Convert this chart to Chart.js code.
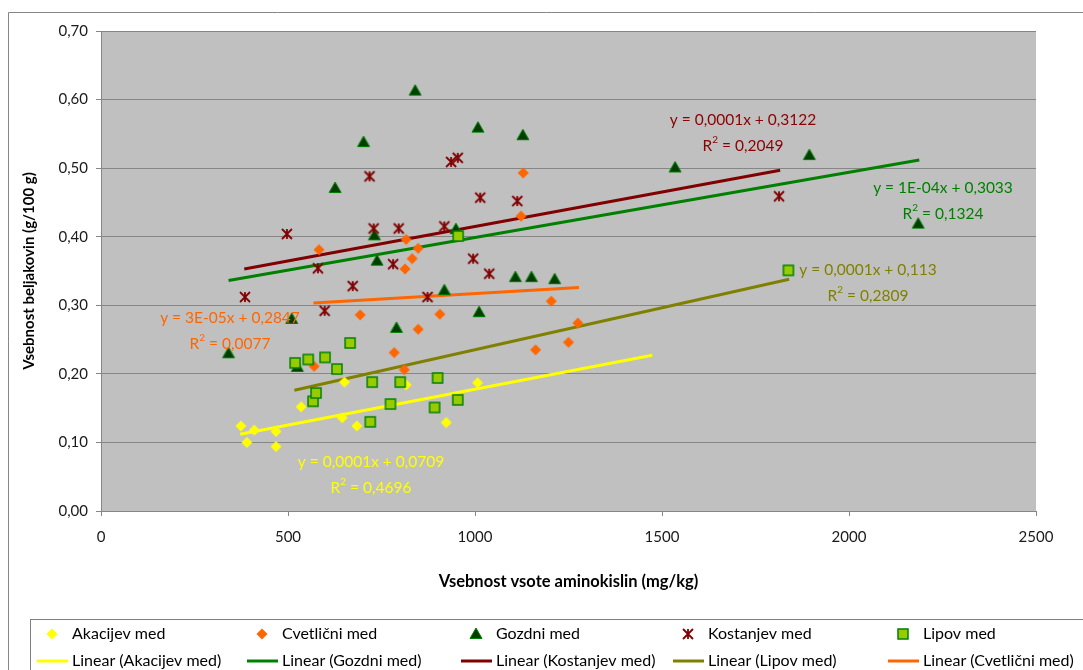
<!DOCTYPE html>
<html>
<head>
<meta charset="utf-8">
<script src="https://cdn.jsdelivr.net/npm/chart.js@4"></script>
<style>
  html, body { margin: 0; padding: 0; background: #fff; }
</style>
</head>
<body>
<canvas id="myChart" width="1083" height="670"></canvas>
<script>
// series values
const akacijevX = [374, 390, 410, 468, 468, 535, 645, 651, 684, 816, 923, 1007];
const akacijevY = [0.124, 0.100, 0.118, 0.116, 0.094, 0.152, 0.136, 0.188, 0.124, 0.184, 0.129, 0.187];

const cvetlicniX = [570, 583, 693, 784, 811, 813, 816, 832, 848, 848, 906, 1123, 1129, 1162, 1204, 1250, 1275];
const cvetlicniY = [0.211, 0.381, 0.286, 0.231, 0.206, 0.353, 0.396, 0.368, 0.383, 0.265, 0.287, 0.430, 0.493, 0.235, 0.306, 0.246, 0.274];

const gozdniX = [341, 510, 525, 626, 702, 731, 738, 790, 840, 918, 949, 1008, 1011, 1108, 1128, 1151, 1213, 1535, 1894, 2185];
const gozdniY = [0.230, 0.280, 0.210, 0.471, 0.538, 0.402, 0.365, 0.267, 0.613, 0.322, 0.411, 0.559, 0.290, 0.341, 0.548, 0.341, 0.338, 0.501, 0.519, 0.419];

const kostanjevX = [385, 497, 580, 598, 673, 718, 729, 781, 796, 873, 918, 936, 954, 995, 1014, 1038, 1113, 1813];
const kostanjevY = [0.312, 0.404, 0.354, 0.292, 0.328, 0.488, 0.412, 0.360, 0.412, 0.312, 0.415, 0.509, 0.515, 0.368, 0.457, 0.346, 0.452, 0.459];

const lipovX = [519, 554, 567, 575, 599, 631, 666, 720, 725, 774, 800, 892, 900, 954, 955, 1838];
const lipovY = [0.216, 0.221, 0.160, 0.172, 0.224, 0.207, 0.245, 0.130, 0.188, 0.156, 0.188, 0.151, 0.194, 0.162, 0.401, 0.351];

// trendline end points (start, end)
const akacijevTrendX = [372, 1474];
const akacijevTrendY = [0.112, 0.227];
const cvetlicniTrendX = [568, 1278];
const cvetlicniTrendY = [0.3035, 0.326];
const gozdniTrendX = [341, 2188];
const gozdniTrendY = [0.336, 0.512];
const kostanjevTrendX = [383, 1816];
const kostanjevTrendY = [0.353, 0.497];
const lipovTrendX = [517, 1840];
const lipovTrendY = [0.176, 0.338];

// tick labels
const yTickLabels = ["0,00", "0,10", "0,20", "0,30", "0,40", "0,50", "0,60", "0,70"];
const xTickLabels = ["0", "500", "1000", "1500", "2000", "2500"];

// trendline equation texts
const eqAkacijev = ["y = 0,0001x + 0,0709", "0,4696"];
const eqCvetlicni = ["y = 3E-05x + 0,2847", "0,0077"];
const eqGozdni = ["y = 1E-04x + 0,3033", "0,1324"];
const eqKostanjev = ["y = 0,0001x + 0,3122", "0,2049"];
const eqLipov = ["y = 0,0001x + 0,113", "0,2809"];

const FONT = "Lato, 'Open Sans', sans-serif";

const toPoints = (xs, ys) => xs.map((x, i) => ({ x: x, y: ys[i] }));

// marker drawing, used for points and legend
const drawMarker = (g, kind, cx, cy) => {
  g.save();
  if (kind === "akacijev" || kind === "cvetlicni") {
    g.fillStyle = kind === "akacijev" ? "#FFFF00" : "#FF6600";
    g.beginPath();
    g.moveTo(cx, cy - 5.5);
    g.lineTo(cx + 5.5, cy);
    g.lineTo(cx, cy + 5.5);
    g.lineTo(cx - 5.5, cy);
    g.closePath();
    g.fill();
  } else if (kind === "gozdni") {
    g.fillStyle = "#003F00";
    g.strokeStyle = "#008000";
    g.lineWidth = 1;
    g.beginPath();
    g.moveTo(cx, cy - 6);
    g.lineTo(cx + 6, cy + 4.5);
    g.lineTo(cx - 6, cy + 4.5);
    g.closePath();
    g.fill();
    g.stroke();
  } else if (kind === "kostanjev") {
    g.strokeStyle = "#800000";
    g.lineWidth = 1.8;
    g.beginPath();
    g.moveTo(cx - 5, cy - 5);
    g.lineTo(cx + 5, cy + 5);
    g.moveTo(cx + 5, cy - 5);
    g.lineTo(cx - 5, cy + 5);
    g.moveTo(cx, cy - 5);
    g.lineTo(cx, cy + 5);
    g.stroke();
  } else if (kind === "lipov") {
    g.fillStyle = "#99CC00";
    g.strokeStyle = "#008000";
    g.lineWidth = 1.5;
    g.fillRect(cx - 5, cy - 5, 10, 10);
    g.strokeRect(cx - 5, cy - 5, 10, 10);
  }
  g.restore();
};

const makeMarker = (kind) => {
  const c = document.createElement("canvas");
  c.width = 16;
  c.height = 16;
  drawMarker(c.getContext("2d"), kind, 8, 8);
  return c;
};

const scatterSet = (label, xs, ys, kind, order) => ({
  label: label,
  data: toPoints(xs, ys),
  pointStyle: makeMarker(kind),
  pointRadius: 6,
  showLine: false,
  order: order,
});

const trendSet = (label, xs, ys, color) => ({
  label: label,
  data: toPoints(xs, ys),
  showLine: true,
  pointRadius: 0,
  borderColor: color,
  borderWidth: 3,
  order: 10,
});

// background of the plot area and white page
const backgroundPlugin = {
  id: "background",
  beforeDraw(chart) {
    const { ctx, chartArea: a } = chart;
    ctx.save();
    ctx.fillStyle = "#ffffff";
    ctx.fillRect(0, 0, chart.width, chart.height);
    ctx.fillStyle = "#C0C0C0";
    ctx.fillRect(a.left, a.top, a.right - a.left, a.bottom - a.top);
    ctx.restore();
  },
};

// equation + R² labels
const drawEquation = (ctx, eq, cx, cy, color) => {
  const big = "15.5px " + FONT;
  const small = "10px " + FONT;
  ctx.save();
  ctx.fillStyle = color;
  ctx.textBaseline = "middle";
  ctx.font = big;
  ctx.textAlign = "center";
  ctx.fillText(eq[0], cx, cy);
  const rest = " = " + eq[1];
  const wR = ctx.measureText("R").width;
  const wRest = ctx.measureText(rest).width;
  ctx.font = small;
  const wSup = ctx.measureText("2").width;
  const total = wR + wSup + wRest;
  let x = cx - total / 2;
  const y2 = cy + 26;
  ctx.textAlign = "left";
  ctx.font = big;
  ctx.fillText("R", x, y2);
  x += wR;
  ctx.font = small;
  ctx.fillText("2", x, y2 - 6);
  x += wSup;
  ctx.font = big;
  ctx.fillText(rest, x, y2);
  ctx.restore();
};

const labelsPlugin = {
  id: "eqLabels",
  afterDatasetsDraw(chart) {
    const ctx = chart.ctx;
    drawEquation(ctx, eqKostanjev, 743, 120, "#8B0000");
    drawEquation(ctx, eqGozdni, 943, 188, "#008000");
    drawEquation(ctx, eqLipov, 868, 270, "#808000");
    drawEquation(ctx, eqCvetlicni, 230, 318, "#FF6600");
    drawEquation(ctx, eqAkacijev, 371, 462, "#FFFF00");
  },
};

// legend box below the chart, two rows like the original
const legendPlugin = {
  id: "legendBox",
  afterDraw(chart) {
    const ctx = chart.ctx;
    ctx.save();
    // outer chart frame
    ctx.strokeStyle = "#868686";
    ctx.lineWidth = 1;
    ctx.beginPath();
    ctx.moveTo(8.5, 680);
    ctx.lineTo(8.5, 12.5);
    ctx.lineTo(1090, 12.5);
    ctx.stroke();
    // legend frame
    ctx.strokeStyle = "#7f7f7f";
    ctx.strokeRect(30.5, 619.5, 1070, 70);

    const cols = [52, 262, 476, 688, 903];
    const row1 = [
      ["Akacijev med", "akacijev"],
      ["Cvetlični med", "cvetlicni"],
      ["Gozdni med", "gozdni"],
      ["Kostanjev med", "kostanjev"],
      ["Lipov med", "lipov"],
    ];
    const row2 = [
      ["Linear (Akacijev med)", "#FFFF00"],
      ["Linear (Gozdni med)", "#008000"],
      ["Linear (Kostanjev med)", "#800000"],
      ["Linear (Lipov med)", "#808000"],
      ["Linear (Cvetlični med)", "#FF6600"],
    ];
    ctx.font = "16px " + FONT;
    ctx.textBaseline = "middle";
    ctx.textAlign = "left";
    row1.forEach((item, i) => {
      drawMarker(ctx, item[1], cols[i], 634);
      ctx.fillStyle = "#000";
      ctx.fillText(item[0], cols[i] + 20, 634);
    });
    row2.forEach((item, i) => {
      ctx.strokeStyle = item[1];
      ctx.lineWidth = 3;
      ctx.beginPath();
      ctx.moveTo(cols[i] - 15, 661);
      ctx.lineTo(cols[i] + 16, 661);
      ctx.stroke();
      ctx.fillStyle = "#000";
      ctx.fillText(item[0], cols[i] + 20, 661);
    });
    ctx.restore();
  },
};

const ctx = document.getElementById("myChart").getContext("2d");

const myChart = new Chart(ctx, {
  type: "scatter",
  data: {
    datasets: [
      scatterSet("Akacijev med", akacijevX, akacijevY, "akacijev", 5),
      scatterSet("Cvetlični med", cvetlicniX, cvetlicniY, "cvetlicni", 4),
      scatterSet("Gozdni med", gozdniX, gozdniY, "gozdni", 3),
      scatterSet("Kostanjev med", kostanjevX, kostanjevY, "kostanjev", 2),
      scatterSet("Lipov med", lipovX, lipovY, "lipov", 1),
      trendSet("Linear (Akacijev med)", akacijevTrendX, akacijevTrendY, "#FFFF00"),
      trendSet("Linear (Gozdni med)", gozdniTrendX, gozdniTrendY, "#008000"),
      trendSet("Linear (Kostanjev med)", kostanjevTrendX, kostanjevTrendY, "#800000"),
      trendSet("Linear (Lipov med)", lipovTrendX, lipovTrendY, "#808000"),
      trendSet("Linear (Cvetlični med)", cvetlicniTrendX, cvetlicniTrendY, "#FF6600"),
    ],
  },
  options: {
    responsive: false,
    animation: false,
    layout: { padding: { left: 0, top: 31, right: 47, bottom: 69 } },
    plugins: {
      legend: { display: false },
      tooltip: { enabled: false },
    },
    scales: {
      x: {
        type: "linear",
        min: 0,
        max: 2500,
        afterFit: (s) => { s.height = 90; },
        afterBuildTicks: (s) => {
          s.ticks = xTickLabels.map((t) => ({ value: Number(t) }));
        },
        ticks: {
          padding: 12,
          color: "#1a1a1a",
          font: { family: FONT, size: 15 },
          callback: (v, i) => xTickLabels[i],
        },
        grid: { drawOnChartArea: false, tickLength: 5, tickColor: "#868686" },
        border: { color: "#868686" },
        title: {
          display: true,
          text: "Vsebnost vsote aminokislin (mg/kg)",
          color: "#000",
          font: { family: FONT, size: 16.5, weight: "bold" },
          padding: { top: 0, bottom: 9 },
        },
      },
      y: {
        type: "linear",
        min: 0,
        max: 0.7,
        afterFit: (s) => { s.width = 101; },
        afterBuildTicks: (s) => {
          s.ticks = yTickLabels.map((t, i) => ({ value: i / 10 }));
        },
        ticks: {
          padding: 8,
          color: "#1a1a1a",
          font: { family: FONT, size: 15 },
          callback: (v, i) => yTickLabels[i],
        },
        grid: { color: "#868686", tickLength: 5, tickColor: "#868686" },
        border: { color: "#868686" },
        title: {
          display: true,
          text: "Vsebnost beljakovin (g/100 g)",
          color: "#000",
          font: { family: FONT, size: 15, weight: "bold" },
          padding: { top: 20, bottom: 0 },
        },
      },
    },
  },
  plugins: [backgroundPlugin, labelsPlugin, legendPlugin],
});
</script>
</body>
</html>
